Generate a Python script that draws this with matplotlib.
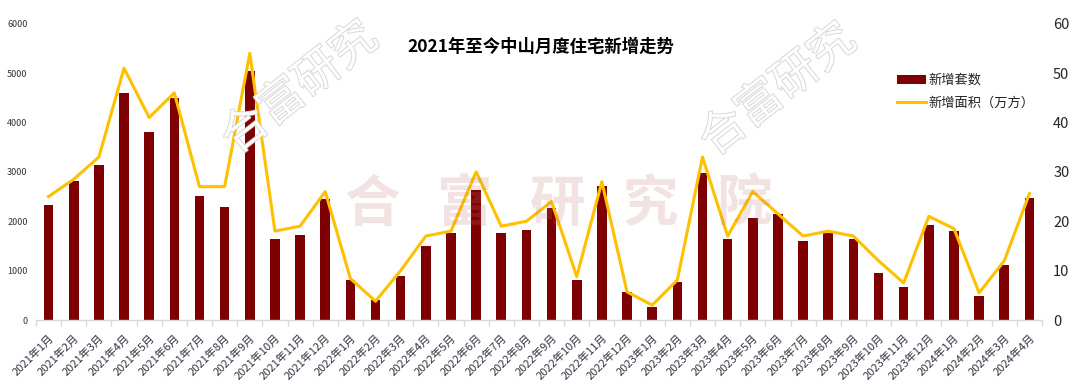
import matplotlib
matplotlib.use("Agg")
import matplotlib.pyplot as plt
import matplotlib.patheffects as pe
import numpy as np

plt.rcParams['font.family'] = ['Noto Sans CJK SC', 'DejaVu Sans']

months = [f"{y}年{m}月" for y in (2021, 2022, 2023) for m in range(1, 13)] + \
         [f"2024年{m}月" for m in range(1, 5)]
units = [2330, 2810, 3130, 4590, 3800, 4500, 2510, 2280, 5050, 1640, 1720, 2450,
         810, 400, 890, 1490, 1770, 2640, 1770, 1830, 2270, 810, 2720, 570,
         260, 770, 2970, 1650, 2070, 2150, 1600, 1760, 1640, 950, 670, 1930,
         1810, 490, 1120, 2480]
area = [25, 28.5, 33, 51, 41, 46, 27, 27, 54, 18, 19, 26,
        8.4, 3.8, 10, 17, 18, 30, 19, 20, 24, 8.8, 28, 5.7,
        3, 8.1, 33, 17, 26, 21.5, 17, 18, 17, 12, 7.5, 21,
        18.5, 5.5, 12, 25.6]
bar_label = "新增套数"
line_label = "新增面积（万方）"
title = "2021年至今中山月度住宅新增走势"

BAR_C = "#7F0000"
LINE_C = "#FFC000"

fig = plt.figure(figsize=(10.8, 3.89), dpi=100)
ax = fig.add_axes([36/1080, 1-320/389, (1042-36)/1080, (320-23.7)/389])
ax2 = ax.twinx()

x = np.arange(len(months))
b = ax.bar(x, units, width=0.38, color=BAR_C, zorder=2, label=bar_label)
l, = ax2.plot(x, area, color=LINE_C, lw=2.2, zorder=3, label=line_label)

ax.set_xlim(-0.5, len(months)-0.5)
ax.set_ylim(0, 6000)
ax2.set_ylim(0, 60)
ax.set_yticks(range(0, 6001, 1000))
ax2.set_yticks(range(0, 61, 10))

for a in (ax, ax2):
    for s in a.spines.values():
        s.set_visible(False)
ax.spines['bottom'].set_visible(True)
ax.spines['bottom'].set_color('#D9D9D9')
ax.spines['bottom'].set_linewidth(1.0)

ax.tick_params(axis='y', length=0, labelsize=6.5, pad=6, colors='#333333')
ax2.tick_params(axis='y', length=0, labelsize=10.5, pad=8, colors='#262626')

ax.set_xticks(x)
ax.set_xticklabels(months, rotation=45, ha='right', va='top', rotation_mode='anchor',
                   fontsize=8, color='#333344')
ax.tick_params(axis='x', which='major', length=0, pad=9)
ax.set_xticks(np.arange(-0.5, len(months)), minor=True)
ax.tick_params(axis='x', which='minor', length=4, color='#D9D9D9', width=1.0)

fig.text(541/1080, 1-47/389, title, ha='center', va='center', fontsize=12.5,
         fontweight='bold', color='#000000')

ax2.legend([b, l], [bar_label, line_label], loc='upper left',
           bbox_to_anchor=(885/1080, 1-62/389), bbox_transform=fig.transFigure,
           frameon=False, fontsize=9.5, handlelength=2.2, handletextpad=0.2,
           labelspacing=0.75, labelcolor='#222222')

# watermarks
for cx, cy in [(300, 88), (778, 90)]:
    fig.text(cx/1080, 1-cy/389, "合富研究", rotation=38, ha='center', va='center',
             fontsize=33, color='white', alpha=0.9,
             path_effects=[pe.withStroke(linewidth=1.2, foreground='#CFCFCF')],
             zorder=5)
for i, ch in enumerate("合富研究院"):
    fig.text((372 + 93*i)/1080, 1-205/389, ch, ha='center', va='center',
             fontsize=40, color='#C07070', alpha=0.2, fontweight='bold', zorder=5)

fig.savefig("out.png", dpi=100)
